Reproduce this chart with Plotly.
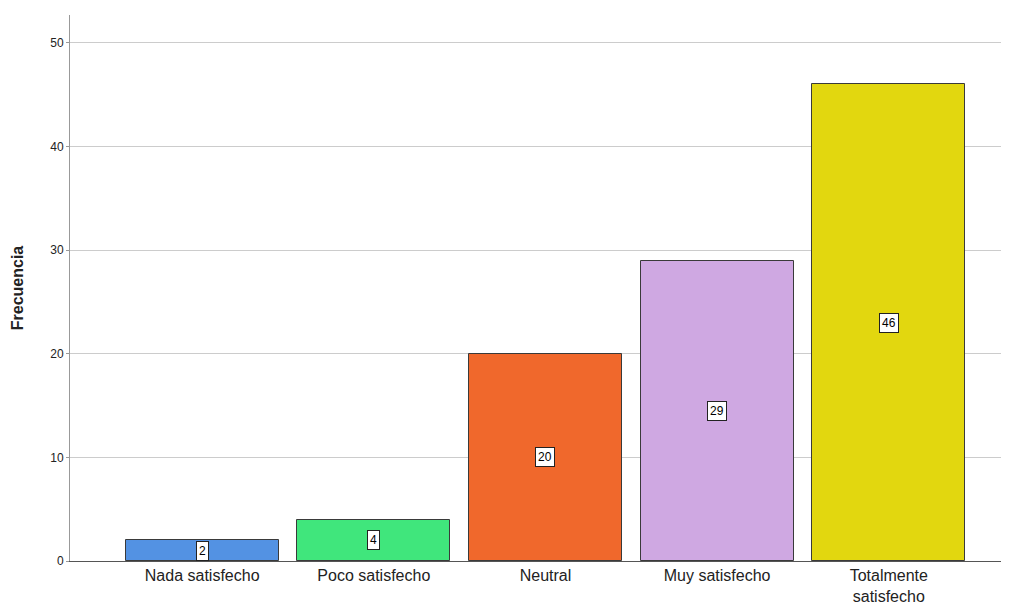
import plotly.graph_objects as go

categories = ["Nada satisfecho", "Poco satisfecho", "Neutral", "Muy satisfecho", "Totalmente<br>satisfecho"]
values = [2, 4, 20, 29, 46]
colors = ["#5392e3", "#40e67c", "#f0682c", "#cfa8e2", "#e2d70f"]
y_ticks = [0, 10, 20, 30, 40, 50]

fig = go.Figure()
fig.add_trace(go.Bar(
    x=list(range(len(categories))), y=values,
    marker=dict(color=colors, line=dict(color="#3a3a3a", width=1)),
    width=0.89, showlegend=False, hoverinfo="skip",
))

for i, v in enumerate(values):
    fig.add_annotation(
        x=i, y=v / 2, text=str(v), showarrow=False,
        font=dict(family="Liberation Sans, Arial", size=12, color="black"),
        bgcolor="white", bordercolor="#222", borderwidth=1, borderpad=2,
    )

fig.update_layout(
    width=1009, height=611,
    margin=dict(l=62, r=0, t=7, b=58),
    plot_bgcolor="white", paper_bgcolor="white",
    font=dict(family="Liberation Sans, Arial", color="#222"),
    bargap=0,
)
fig.update_xaxes(
    range=[-0.77, 4.747],
    tickvals=list(range(len(categories))), ticktext=categories,
    tickfont=dict(size=16, color="#222"),
    showline=True, linecolor="#555", linewidth=1,
    showgrid=False, ticks="", zeroline=False,
)
fig.update_yaxes(
    range=[0, 52.7], tickvals=y_ticks,
    tickfont=dict(size=12, color="#222"),
    showline=True, linecolor="#999", linewidth=1,
    showgrid=True, gridcolor="#cccccc", gridwidth=1,
    ticks="outside", ticklen=3, tickcolor="#999",
    zeroline=False,
    title=dict(text="<b>Frecuencia</b>", font=dict(size=16, color="#222"), standoff=22),
)

fig.write_html("out.html")
